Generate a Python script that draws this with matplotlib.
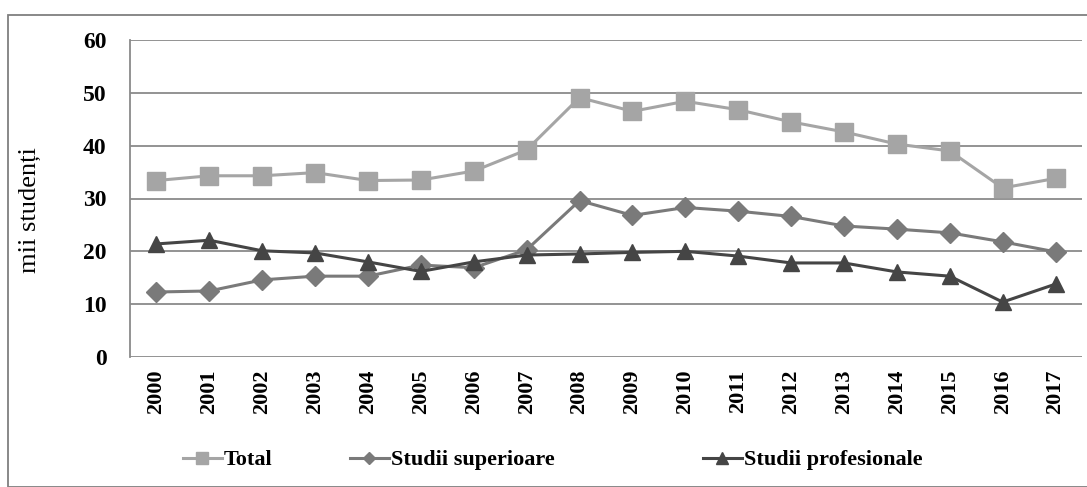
import matplotlib
matplotlib.use("Agg")
import matplotlib.pyplot as plt
from matplotlib.lines import Line2D
from matplotlib.patches import Rectangle

# data (thousands of students)
years = [str(y) for y in range(2000, 2018)]
total = [33.4, 34.3, 34.3, 34.9, 33.4, 33.5, 35.2, 39.2, 49.1, 46.5,
         48.4, 46.8, 44.5, 42.6, 40.3, 39.0, 32.0, 33.8]
superioare = [12.3, 12.5, 14.6, 15.3, 15.3, 17.4, 16.9, 20.3, 29.6, 26.8,
              28.3, 27.6, 26.6, 24.8, 24.2, 23.5, 21.8, 19.9]
profesionale = [21.4, 22.1, 20.1, 19.7, 18.0, 16.2, 18.0, 19.3, 19.5, 19.8,
                20.0, 19.1, 17.8, 17.8, 16.1, 15.3, 10.4, 13.8]
yticks = [0, 10, 20, 30, 40, 50, 60]

plt.rcParams["font.family"] = ["Liberation Serif", "DejaVu Serif"]

W, H = 1087, 487
fig = plt.figure(figsize=(W / 100, H / 100), dpi=100)

# outer frame (only left/top edge visible in the crop)
fig.patches.append(Rectangle((8 / W, 0), 1.2, 1 - 15 / H, transform=fig.transFigure,
                             fill=False, edgecolor="#7f7f7f", linewidth=1.3, zorder=0))

ax = fig.add_axes([130 / W, 1 - 357 / H, (1082 - 130) / W, (357 - 40) / H])
x = range(len(years))

c_total, c_sup, c_prof = "#a5a5a5", "#7a7a7a", "#454545"
ax.plot(x, total, color=c_total, lw=2.2, marker="s", ms=13.5, zorder=3)
ax.plot(x, superioare, color=c_sup, lw=2.2, marker="D", ms=10, zorder=4)
ax.plot(x, profesionale, color=c_prof, lw=2.2, marker="^", ms=11, zorder=5)

ax.set_xlim(-0.5, len(years) - 0.5)
ax.set_ylim(0, 60)
ax.set_yticks(yticks)
ax.set_xticks(list(x))
ax.set_xticklabels(years, rotation=90, fontweight="bold", fontsize=16)
ax.set_yticklabels([str(v) for v in yticks], fontweight="bold", fontsize=17)
ax.tick_params(axis="both", length=0)
ax.tick_params(axis="y", pad=17)
ax.tick_params(axis="x", pad=9)

ax.grid(axis="y", color="#8a8a8a", lw=1.3)
ax.set_axisbelow(True)
for s in ["top", "right", "bottom"]:
    ax.spines[s].set_visible(False)
ax.spines["left"].set_color("#8a8a8a")
ax.spines["left"].set_linewidth(1.3)

fig.text(30 / W, 1 - 210 / H, "mii studenți", rotation=90, fontsize=19,
         ha="center", va="center")

# legend entries placed separately, as in the original
entries = [
    ("Total", c_total, "s", 9, 183),
    ("Studii superioare", c_sup, "D", 6, 350),
    ("Studii profesionale", c_prof, "^", 8, 703),
]
for label, col, mk, ms, xpos in entries:
    h = Line2D([], [], color=col, lw=2.2, marker=mk, ms=ms)
    fig.legend([h], [label], loc="center left", bbox_to_anchor=(xpos / W, 1 - 460 / H),
               frameon=False, handlelength=1.75, handletextpad=0.1, borderpad=0,
               borderaxespad=0, prop={"weight": "bold", "size": 16})

fig.savefig("out.png", dpi=100)
